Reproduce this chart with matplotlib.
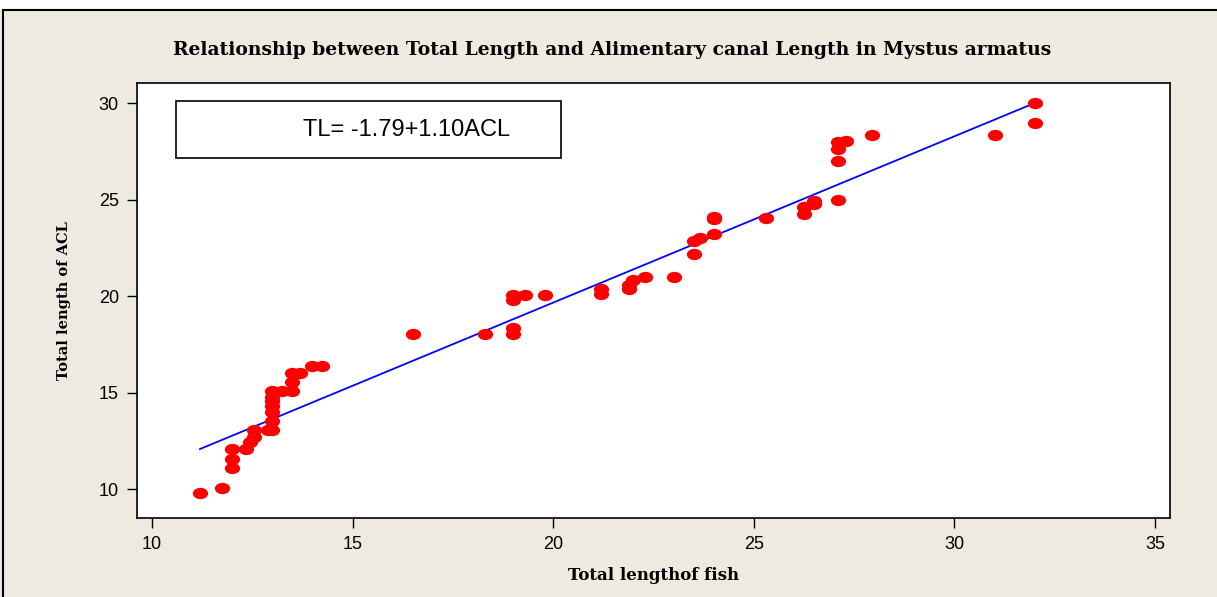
import matplotlib
matplotlib.use("Agg")
import matplotlib.pyplot as plt
import numpy as np
from matplotlib.path import Path
from matplotlib.transforms import Affine2D
from matplotlib.patches import Rectangle
from matplotlib.lines import Line2D

# Total length of fish (cm)
fish_length = [
    11.2, 11.75, 12.0, 12.0, 12.0, 12.35, 12.45, 12.55, 12.55,
    12.9, 13.0, 13.0, 13.0, 13.0, 13.0, 13.0, 13.0, 13.25,
    13.5, 13.5, 13.5, 13.7, 14.0, 14.25,
    16.5, 18.3, 19.0, 19.0, 19.0, 19.0, 19.3, 19.8,
    21.2, 21.2, 21.9, 21.9, 22.0, 22.3, 23.0,
    23.5, 23.5, 23.65, 24.0, 24.0, 24.0, 25.3,
    26.25, 26.25, 26.5, 26.5, 27.1, 27.1, 27.1, 27.1, 27.3,
    27.95, 31.0, 32.0, 32.0,
]
# Total length of alimentary canal (cm)
acl_length = [
    9.8, 10.05, 11.1, 11.55, 12.05, 12.05, 12.45, 12.7, 13.05,
    13.05, 13.05, 13.55, 14.0, 14.3, 14.55, 14.75, 15.1, 15.1,
    15.1, 15.55, 16.0, 16.0, 16.4, 16.4,
    18.05, 18.05, 18.05, 18.35, 19.8, 20.05, 20.05, 20.05,
    20.1, 20.35, 20.35, 20.55, 20.85, 21.0, 21.0,
    22.2, 22.85, 23.0, 23.2, 24.0, 24.1, 24.05,
    24.25, 24.6, 24.75, 24.95, 25.0, 27.0, 27.6, 28.0, 28.05,
    28.35, 28.35, 30.0, 28.95,
]
# fitted line as drawn in the picture
line_intercept = 2.42
line_slope = 0.862
equation_text = "TL= -1.79+1.10ACL"
x_ticks = [10, 15, 20, 25, 30, 35]
y_ticks = [10, 15, 20, 25, 30]

bg = "#eeeae1"
fig = plt.figure(figsize=(12.17, 5.97), dpi=100, facecolor=bg)

# white strip and frame lines at the top/left of the picture
fig.patches.append(Rectangle((0, 1 - 10 / 597), 1, 10 / 597, transform=fig.transFigure,
                             facecolor="white", edgecolor="none", zorder=0))
fig.lines.append(Line2D([3 / 1217, 1], [1 - 10 / 597] * 2, transform=fig.transFigure,
                        color="black", lw=1.5))
fig.lines.append(Line2D([3 / 1217] * 2, [0, 1 - 10 / 597], transform=fig.transFigure,
                        color="black", lw=1.5))

ax = fig.add_axes([137 / 1217, 79 / 597, 1033 / 1217, 435 / 597])
ax.set_facecolor("white")

ellipse = Path.unit_circle().transformed(Affine2D().scale(1.35, 1.0))
ax.plot(fish_length, acl_length, linestyle="none", marker=ellipse, markersize=11,
        color="#ff0000", markeredgewidth=0, zorder=3)

xs = np.array([min(fish_length), max(fish_length)])
ax.plot(xs, line_intercept + line_slope * xs, color="#0000ff", lw=1.3, zorder=2)

ax.set_xlim(9.63, 35.37)
ax.set_ylim(8.5, 31.04)
ax.set_xticks(x_ticks)
ax.set_yticks(y_ticks)
ax.tick_params(direction="out", length=7, width=1, labelsize=13, pad=6)
for lab in ax.get_xticklabels() + ax.get_yticklabels():
    lab.set_fontfamily("Liberation Sans")
for sp in ax.spines.values():
    sp.set_linewidth(1.2)

ax.add_patch(Rectangle((0.0378, 0.8276), 0.3727, 0.131, transform=ax.transAxes,
                       facecolor="white", edgecolor="black", lw=1.2, zorder=4))
ax.text(0.261, 0.892, equation_text, transform=ax.transAxes, ha="center", va="center",
        fontsize=17, family="Liberation Sans", zorder=5)

fig.text(612 / 1217, 1 - 50 / 597,
         "Relationship between Total Length and Alimentary canal Length in Mystus armatus",
         ha="center", va="center", fontsize=13.5, fontweight="bold", family="DejaVu Serif")
ax.set_xlabel("Total lengthof fish", fontsize=12, fontweight="bold",
              family="DejaVu Serif", labelpad=10)
ax.set_ylabel("Total length of ACL", fontsize=10.5, fontweight="bold",
              family="DejaVu Serif", labelpad=20)

fig.savefig("out.png", dpi=100, facecolor=bg)
